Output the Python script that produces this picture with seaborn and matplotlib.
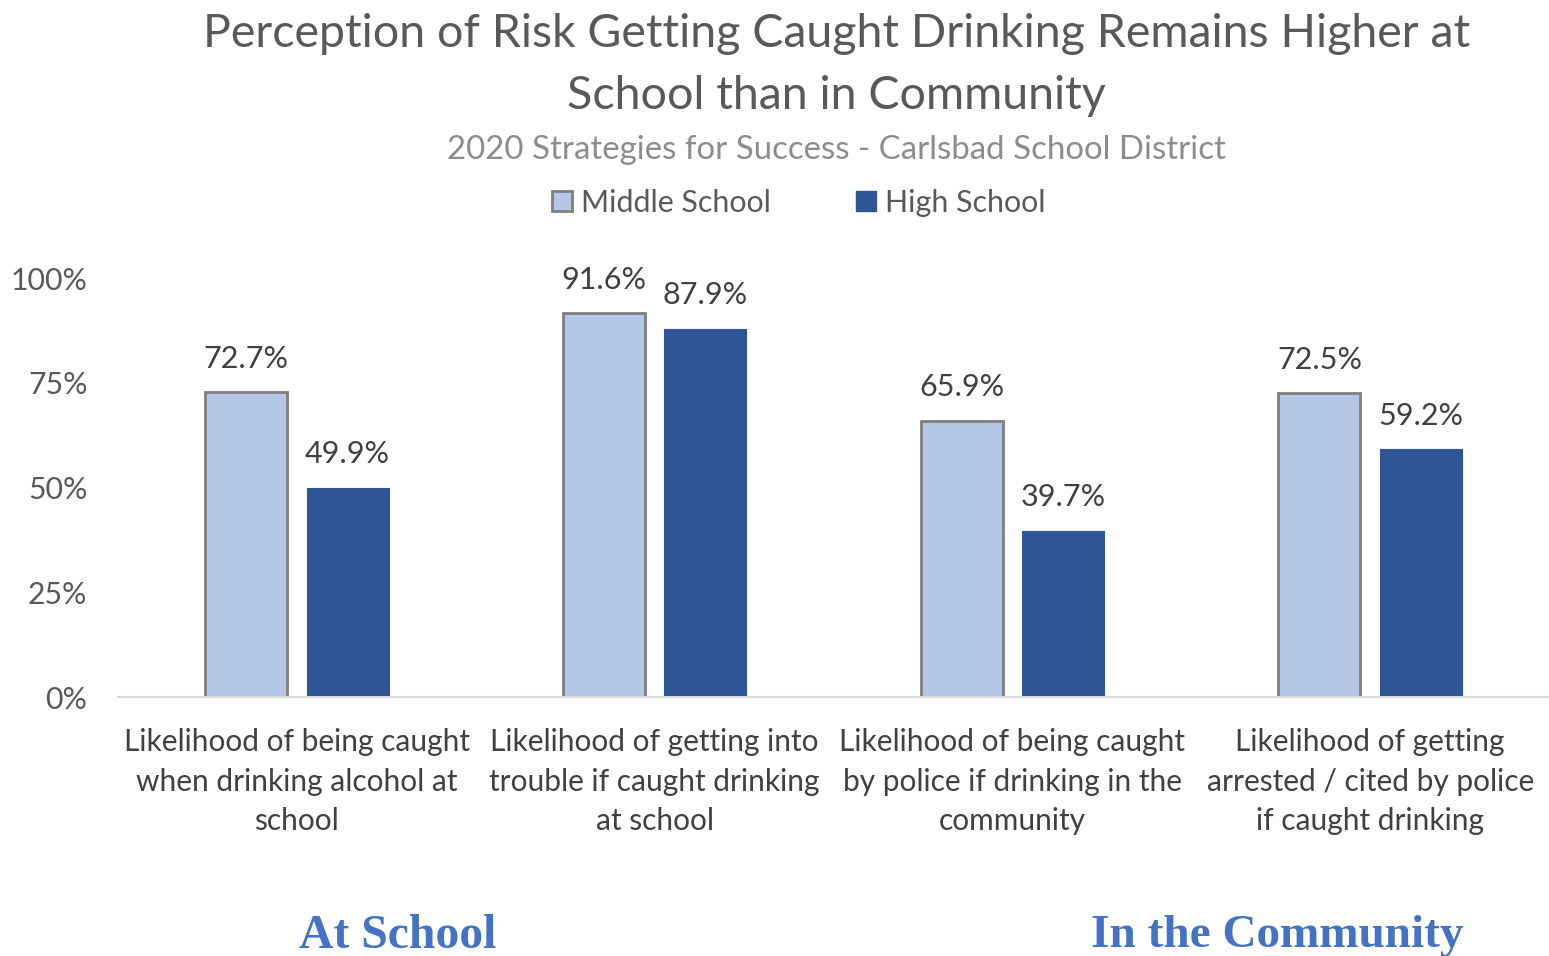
import numpy as np
import pandas as pd
import matplotlib
matplotlib.use("Agg")
import matplotlib.pyplot as plt
import matplotlib.patches as mpatches
import seaborn as sns

# --- data ---
categories = [
    "Likelihood of being caught\nwhen drinking alcohol at\nschool",
    "Likelihood of getting into\ntrouble if caught drinking\nat school",
    "Likelihood of being caught\nby police if drinking in the\ncommunity",
    "Likelihood of getting\narrested / cited by police\nif caught drinking",
]
groups = ["Middle School", "High School"]
middle_school = [72.7, 91.6, 65.9, 72.5]
high_school = [49.9, 87.9, 39.7, 59.2]
y_ticks = [0, 25, 50, 75, 100]
y_tick_labels = ["0%", "25%", "50%", "75%", "100%"]

df = pd.DataFrame({
    "category": categories * 2,
    "group": [groups[0]] * 4 + [groups[1]] * 4,
    "value": middle_school + high_school,
})

sns.set_style("white")
plt.rcParams["font.family"] = ["Lato", "DejaVu Sans"]

colors = {"Middle School": "#B4C7E7", "High School": "#2F5597"}

fig = plt.figure(figsize=(15.49, 9.56), dpi=100)
ax = fig.add_axes([0.0762, 0.2709, 0.9238, 0.4383])

sns.barplot(data=df, x="category", y="value", hue="group", order=categories,
            hue_order=groups, palette=colors, width=0.567, gap=0.19,
            saturation=1, legend=False, ax=ax)

# gray outline on the middle school bars, data labels on all
for container, grp in zip(ax.containers, groups):
    for bar in container:
        if grp == "Middle School":
            bar.set_edgecolor("#7F7F7F")
            bar.set_linewidth(2)
        else:
            bar.set_edgecolor("#2F5597")
            bar.set_linewidth(0.8)
    ax.bar_label(container, labels=[f"{v:.1f}%" for v in container.datavalues],
                 padding=14, fontsize=22, color="#404040", clip_on=False)

ax.set_xlim(-0.5, 3.5)
ax.set_ylim(0, 100)
ax.set_yticks(y_ticks)
ax.set_yticklabels(y_tick_labels)
ax.set_xlabel("")
ax.set_ylabel("")
ax.tick_params(axis="y", labelsize=21.8, labelcolor="#595959", length=0, pad=22)
ax.tick_params(axis="x", labelsize=21.5, labelcolor="#404040", length=0, pad=22)
for lbl in ax.get_xticklabels():
    lbl.set_linespacing(1.52)

for side in ["top", "right", "left"]:
    ax.spines[side].set_visible(False)
ax.spines["bottom"].set_color("#D9D9D9")
ax.spines["bottom"].set_linewidth(1.5)

# titles
fig.text(0.54, 0.932, "Perception of Risk Getting Caught Drinking Remains Higher at\nSchool than in Community",
         ha="center", va="center", fontsize=33.5, color="#595959", linespacing=1.58)
fig.text(0.54, 0.843, "2020 Strategies for Success - Carlsbad School District",
         ha="center", va="center", fontsize=23.8, color="#8C8C8C")

# legend
handles = [
    mpatches.Patch(facecolor=colors["Middle School"], edgecolor="#7F7F7F", linewidth=2, label="Middle School"),
    mpatches.Patch(facecolor=colors["High School"], edgecolor=colors["High School"], label="High School"),
]
fig.legend(handles=handles, loc="center", bbox_to_anchor=(0.5155, 0.788), ncol=2,
           frameon=False, fontsize=21.9, handlelength=0.65, handleheight=0.65,
           handletextpad=0.3, columnspacing=2.8, labelcolor="#595959")

# section labels
fig.text(0.257, 0.021, "At School", ha="center", va="center", fontsize=34.3,
         fontweight="bold", color="#4472C4", family=["Liberation Serif", "DejaVu Serif"])
fig.text(0.8245, 0.021, "In the Community", ha="center", va="center", fontsize=34,
         fontweight="bold", color="#4472C4", family=["Liberation Serif", "DejaVu Serif"])

fig.savefig("out.png", dpi=100)
